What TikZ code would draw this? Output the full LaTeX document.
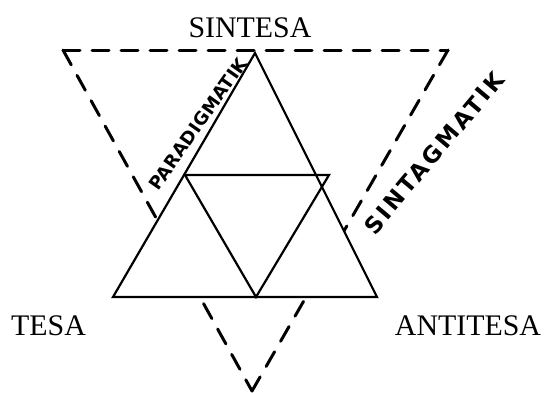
\documentclass[tikz,border=0pt]{standalone}
\usepackage{fontspec}
\setmainfont{Liberation Serif}
\newfontfamily\hand{DejaVu Sans}[LetterSpace=2]
\newfontfamily\handwide{DejaVu Sans}[LetterSpace=12]
\begin{document}
\begin{tikzpicture}[x=1bp,y=-1bp,
  solidline/.style={line width=2.2bp, line join=miter},
  dashline/.style={line width=3bp, dash pattern=on 17bp off 12bp, line cap=round},
  label/.style={font=\fontsize{30}{32}\selectfont, inner sep=0pt, anchor=base},
  handlabel/.style={inner sep=0pt}]
\useasboundingbox (0,0) rectangle (549,392);
% dashed inverted triangle
\coordinate (DL) at (63,50);
\coordinate (DR) at (448,50);
\coordinate (DB) at (252,391);
\draw[dashline] (DL) -- (DR);
\draw[dashline] (DL) -- (DB);
\draw[dashline] (DR) -- (DB);
% main triangle
\coordinate (T) at (255,53);
\coordinate (BL) at (113,297);
\coordinate (BR) at (377,297);
\coordinate (BM) at (256,297);
\coordinate (ML) at (185,175);
\coordinate (MR) at (329,175);
\draw[solidline, fill=white] (T) -- (BL) -- (BR) -- cycle;
\draw[solidline] (ML) -- (MR) -- (BM) -- cycle;
% labels
\node[label] (sintesa) at (250,37) {SINTESA};
\node[label] (tesa) at (48.5,335) {TESA};
\node[label] (antitesa) at (468,335) {ANTITESA};
\node[handlabel, rotate=55, font=\hand\bfseries\fontsize{18}{18}\selectfont] (para) at (198,124) {PARADIGMATIK};
\node[handlabel, rotate=50, font=\handwide\bfseries\fontsize{23}{23}\selectfont] (sinta) at (434,153) {SINTAGMATIK};
\end{tikzpicture}
\end{document}
